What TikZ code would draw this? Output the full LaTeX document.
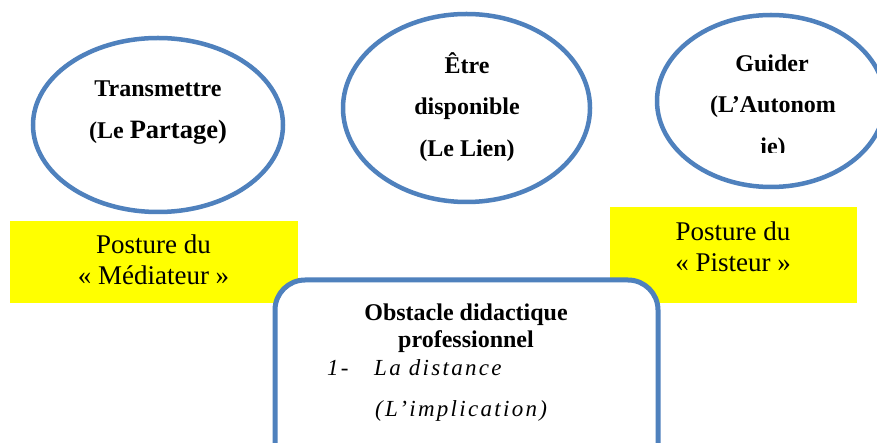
\documentclass[tikz,border=0pt]{standalone}
\usepackage{fontspec}
\setmainfont{Liberation Serif}
\usetikzlibrary{shapes.geometric}
\definecolor{obblue}{HTML}{4F81BD}
\definecolor{obyellow}{HTML}{FFFF00}
\begin{document}
\begin{tikzpicture}[x=1pt,y=-1pt,
  ellbox/.style={ellipse, draw=obblue, line width=4.5pt, fill=white, inner sep=0pt},
  yelbox/.style={rectangle, fill=obyellow, inner sep=0pt},
  obsbox/.style={rectangle, rounded corners=30pt, draw=obblue, line width=5pt, fill=white, inner sep=0pt},
  btxt/.style={anchor=base, inner sep=0pt, font=\fontsize{24}{28}\selectfont\bfseries},
  rtxt/.style={anchor=base, inner sep=0pt, font=\fontsize{27}{30}\selectfont},
  itxt/.style={anchor=base west, inner sep=0pt, font=\fontsize{23}{26}\selectfont\itshape\addfontfeature{LetterSpace=10}}]
\clip (0,0) rectangle (877,443);
\fill[white] (0,0) rectangle (877,443);
% ellipses
\node[ellbox, minimum width=250pt, minimum height=174pt] (e1) at (158,125) {};
\node[ellbox, minimum width=247pt, minimum height=188pt] (e2) at (466.5,108) {};
\node[ellbox, minimum width=228pt, minimum height=172pt] (e3) at (771,101) {};
% ellipse texts
\node[btxt] (t1a) at (158,97) {Transmettre};
\node[btxt] (t1b) at (158,139) {(Le \fontsize{26.5}{30}\selectfont Partage)};
\node[btxt] (t2a) at (467,74) {Être};
\node[btxt] (t2b) at (467,115) {disponible};
\node[btxt] (t2c) at (467,157) {(Le Lien)};
\node[btxt] (t3a) at (772,72) {Guider};
\node[btxt] (t3b) at (773,113) {(L’Autonom};
\begin{scope}
\clip (700,0) rectangle (877,153);
\node[btxt] (t3c) at (773,155) {ie)};
\end{scope}
% yellow boxes
\node[yelbox, minimum width=288pt, minimum height=82pt] (y1) at (154,262) {};
\node[yelbox, minimum width=247pt, minimum height=96pt] (y2) at (733.5,255) {};
\node[rtxt] (y1a) at (153.5,254) {Posture du};
\node[rtxt] (y1b) at (153.5,285) {« Médiateur »};
\node[rtxt] (y2a) at (733,241) {Posture du};
\node[rtxt] (y2b) at (733,272) {« Pisteur »};
% obstacle box
\node[obsbox, minimum width=383pt, minimum height=200pt] (ob) at (466.5,380) {};
\node[btxt] (oba) at (466,320) {Obstacle didactique};
\node[btxt] (obb) at (466,347) {professionnel};
\node[itxt] (obn) at (327,375) {1-};
\node[itxt] (obc) at (374,375) {La distance};
\node[itxt] (obd) at (375,416) {(L’implication)};
\end{tikzpicture}
\end{document}
